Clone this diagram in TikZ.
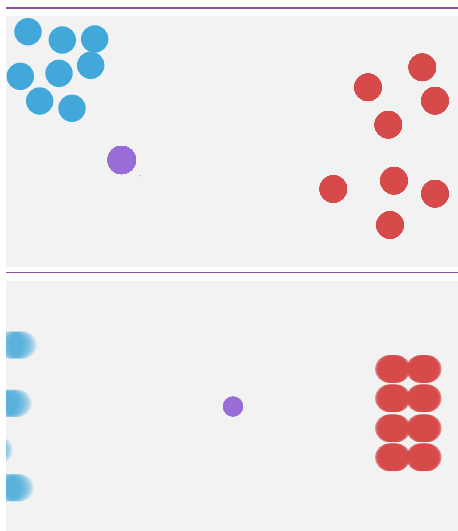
\documentclass[tikz,border=0pt]{standalone}
\usepackage{tikz}
\definecolor{ballblue}{RGB}{66,168,218}
\definecolor{ballred}{RGB}{214,74,74}
\definecolor{ballpurple}{RGB}{152,110,214}
\definecolor{panelgray}{RGB}{242,242,242}
\definecolor{rulepurple}{RGB}{138,86,150}
\tikzset{
  panel/.style    = {fill=panelgray},
  rulebar/.style  = {rulepurple,line width=1.8pt},
  blueball/.style = {fill=ballblue},
  redball/.style  = {fill=ballred},
  agent/.style    = {fill=ballpurple}
}
\newcommand{\ballr}{13.7pt}
% one ball, and one smeared sideways by #4
\newcommand{\ball}[3]{\fill[#1] (#2,#3) circle (\ballr);}
\newcommand{\blurball}[4]{%
  \foreach \d in {-4,...,4}
    \fill[#1,opacity=0.19] ({#2+\d*#4/4},#3) circle (\ballr);
}

\begin{document}
\begin{tikzpicture}[x=1pt,y=-1pt]
  \fill[white] (0,0) rectangle (458,531);
  \useasboundingbox (0,0) rectangle (458,531);
  \draw[rulebar] (6,8) -- (458,8);
  \fill[panel] (6,16) rectangle (458,266.5);
  \draw[rulebar] (6,272.5) -- (458,272.5);
  \fill[panel] (6,281) rectangle (458,531);

  % top: scattered
  \foreach \x/\y in {28/31.7, 62.3/40, 94.7/39, 90.7/65.3, 20.3/76.3,
                     59/73.3, 39.7/101, 72/108.3}
    \ball{blueball}{\x}{\y}
  \foreach \x/\y in {422.3/67.3, 368/87.3, 435/100.7, 388.3/124.7,
                     333.3/189, 394/180.7, 435/193.7, 390/225}
    \ball{redball}{\x}{\y}
  \fill[agent] (121.7,160) circle (14pt);
  \fill[ballpurple!60] (140,175.7) circle (0.8pt);

  % bottom: sorted
  \begin{scope}
    \clip (6,281) rectangle (458,531);
    \foreach \x/\y in {16/345, 11/403.3, -8/450, 13/487.7}
      \blurball{blueball}{\x}{\y}{7}
    \foreach \y in {369, 398.3, 428.3, 457.3}{
      \blurball{redball}{392.8}{\y}{4}
      \blurball{redball}{423.8}{\y}{4}
    }
    \fill[agent] (233,406.5) circle (10pt);
  \end{scope}
\end{tikzpicture}
\end{document}
